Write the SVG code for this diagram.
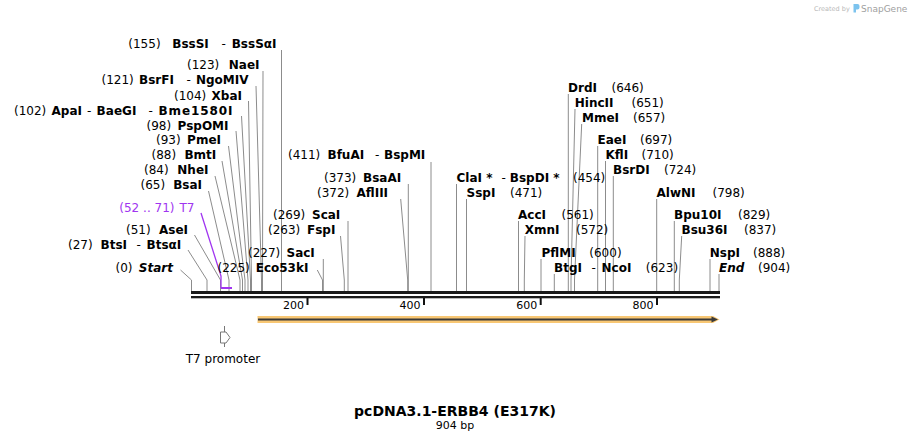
<svg xmlns="http://www.w3.org/2000/svg" width="911" height="441" viewBox="0 0 911 441">
<style>
text{font-family:"DejaVu Sans",Verdana,sans-serif;font-size:12px;fill:#000}
.b{font-weight:bold}
.i{font-style:italic}
.p{fill:#a035f0}
.tk{font-size:11px}
.ln{stroke:#8c8c8c;stroke-width:1;fill:none}
.e{text-anchor:end}
.m{text-anchor:middle}
</style>
<rect width="911" height="441" fill="#fff"/>
<g id="watermark">
<text x="814" y="11" style="font-size:6.5px;fill:#b8b8b8">Created by</text>
<path d="M853.5,4 h4 a2,2 0 0 1 2,2 v1.5 a2,2 0 0 1 -2,2 h-1.5 v3 h-2.5 z" fill="#7cc3ee"/>
<text x="861" y="11.5" style="font-size:9px;fill:#a0a0a0">SnapGene</text>
</g>
<g id="connectors">
<path class="ln" d="M281.5,50V291"/>
<path class="ln" d="M263,71L262.5,280V291"/>
<path class="ln" d="M256,86L261.5,280V291"/>
<path class="ln" d="M248.5,101L251.5,280V291"/>
<path class="ln" d="M241.5,116L250.5,280V291"/>
<path class="ln" d="M236,131L248,280V291"/>
<path class="ln" d="M228.5,146L245,280V291"/>
<path class="ln" d="M222,161L242.5,280V291"/>
<path class="ln" d="M215,176L240,280V291"/>
<path class="ln" d="M208.5,191L229,280V291"/>
<path class="ln" d="M194.5,235L220.5,280V291"/>
<path class="ln" d="M188,250L207,280V291"/>
<path class="ln" d="M180.5,270L191.5,280V291"/>
<path d="M201,213L221,276V288" stroke="#a035f0" stroke-width="1.3" fill="none"/>
<path class="ln" d="M348,221V291"/>
<path class="ln" d="M340.5,236L344.3,280V291"/>
<path class="ln" d="M323.3,259V291"/>
<path class="ln" d="M317.3,270L322.5,280V291"/>
<path class="ln" d="M431,162V291"/>
<path class="ln" d="M408.3,184V291"/>
<path class="ln" d="M400.7,199L407.7,280V291"/>
<path class="ln" d="M456.5,184V291"/>
<path class="ln" d="M466.5,199V291"/>
<path class="ln" d="M518.5,221V291"/>
<path class="ln" d="M525,236L524.3,280V291"/>
<path class="ln" d="M541,259V291"/>
<path class="ln" d="M554.3,274V291"/>
<path class="ln" d="M568.3,94V291"/>
<path class="ln" d="M575,109L571,280V291"/>
<path class="ln" d="M581.7,124L574.5,280V291"/>
<path class="ln" d="M597.7,146V291"/>
<path class="ln" d="M605.5,161V291"/>
<path class="ln" d="M613.3,176V291"/>
<path class="ln" d="M656.7,199V291"/>
<path class="ln" d="M674.3,221V291"/>
<path class="ln" d="M681.7,236L679.3,280V291"/>
<path class="ln" d="M710,259V291"/>
<path class="ln" d="M719,274V291"/>
</g>
<g id="sequence">
<rect x="191" y="291" width="529" height="3" fill="#1a1a1a"/>
<rect x="191" y="296" width="529" height="2.3" fill="#1a1a1a"/>
<g stroke="#111" stroke-width="2">
<path d="M307.5,298V305M424,298V305M540.7,298V305M657,298V305"/>
</g>
<text class="tk e" x="304" y="308.5">200</text>
<text class="tk e" x="420.5" y="308.5">400</text>
<text class="tk e" x="537.2" y="308.5">600</text>
<text class="tk e" x="653.5" y="308.5">800</text>
</g>
<g id="feature-erbb4">
<path d="M257.5,316H713L719.5,319.5L713,323H257.5Z" fill="#f8c774"/>
<path d="M258,319.5H713" stroke="#3a3a3a" stroke-width="2"/>
<path d="M711.5,316.5L718,319.5L711.5,322.5Z" fill="#3a3a3a"/>
</g>
<g id="feature-t7">
<rect x="221" y="287" width="11" height="2" fill="#a035f0"/>
<text class="p" x="119.3" y="212">(52 .. 71)</text>
<text class="p e" x="194.5" y="212">T7</text>
</g>
<g id="t7-promoter">
<path d="M224.5,326V332M224.5,343V347" stroke="#777" stroke-width="1"/>
<path d="M220.5,332H226L230,337.5L226,343H220.5Z" fill="#fff" stroke="#777" stroke-width="1"/>
<text class="m" x="223" y="363">T7 promoter</text>
</g>
<g id="BssSI"><text x="128.3" y="48">(155)</text><text class="b" x="172.3" y="48">BssSI</text><text x="221.5" y="48">-</text><text class="b e" x="276.5" y="48">BssSαI</text></g>
<g id="NaeI"><text x="187" y="69">(123)</text><text class="b e" x="259.5" y="69">NaeI</text></g>
<g id="BsrFI"><text x="101.5" y="84">(121)</text><text class="b" x="139" y="84">BsrFI</text><text x="186.5" y="84">-</text><text class="b e" x="248.5" y="84">NgoMIV</text></g>
<g id="XbaI"><text x="174" y="99.5">(104)</text><text class="b e" x="242" y="99.5">XbaI</text></g>
<g id="ApaI"><text x="14" y="114.5">(102)</text><text class="b" x="51.5" y="114.5">ApaI</text><text x="87" y="114.5">-</text><text class="b" x="96.5" y="114.5" textLength="40" lengthAdjust="spacing">BaeGI</text><text x="148.5" y="114.5">-</text><text class="b" x="158.5" y="114.5" textLength="74" lengthAdjust="spacing">Bme1580I</text></g>
<g id="PspOMI"><text x="146.5" y="129.5">(98)</text><text class="b e" x="228.5" y="129.5">PspOMI</text></g>
<g id="PmeI"><text x="156" y="144">(93)</text><text class="b e" x="221" y="144">PmeI</text></g>
<g id="BmtI"><text x="151.5" y="159">(88)</text><text class="b e" x="216.3" y="159">BmtI</text></g>
<g id="NheI"><text x="144" y="174">(84)</text><text class="b e" x="208.5" y="174">NheI</text></g>
<g id="BsaI"><text x="140.5" y="189">(65)</text><text class="b e" x="202" y="189">BsaI</text></g>
<g id="AseI"><text x="126" y="234">(51)</text><text class="b e" x="188" y="234">AseI</text></g>
<g id="BtsI"><text x="68" y="249">(27)</text><text class="b" x="100.5" y="249">BtsI</text><text x="136.5" y="249">-</text><text class="b e" x="181.3" y="249">BtsαI</text></g>
<g id="Start"><text x="115.5" y="272">(0)</text><text class="b i e" x="173" y="272">Start</text></g>
<g id="Eco53kI"><text x="217.5" y="272">(225)</text><text class="b" x="255.7" y="272">Eco53kI</text></g>
<g id="SacI"><text x="248" y="257">(227)</text><text class="b" x="286.5" y="257">SacI</text></g>
<g id="FspI"><text x="268" y="234">(263)</text><text class="b" x="307" y="234">FspI</text></g>
<g id="ScaI"><text x="273" y="218.5">(269)</text><text class="b" x="312" y="218.5">ScaI</text></g>
<g id="BfuAI"><text x="288" y="158.5">(411)</text><text class="b" x="327.5" y="158.5">BfuAI</text><text x="375" y="158.5">-</text><text class="b" x="384" y="158.5">BspMI</text></g>
<g id="BsaAI"><text x="324" y="181.5">(373)</text><text class="b" x="363" y="181.5">BsaAI</text></g>
<g id="AflIII"><text x="317" y="196.5">(372)</text><text class="b" x="356.5" y="196.5">AflIII</text></g>
<g id="ClaI"><text class="b" x="456.5" y="181.5">ClaI *</text><text x="501.5" y="181.5">-</text><text class="b" x="509.8" y="181.5">BspDI *</text><text x="573" y="181.5">(454)</text></g>
<g id="SspI"><text class="b" x="466.5" y="196.5">SspI</text><text x="510" y="196.5">(471)</text></g>
<g id="AccI"><text class="b" x="518" y="218.5">AccI</text><text x="561.5" y="218.5">(561)</text></g>
<g id="XmnI"><text class="b" x="524.8" y="234">XmnI</text><text x="576" y="234">(572)</text></g>
<g id="PflMI"><text class="b" x="541.5" y="257">PflMI</text><text x="589.3" y="257">(600)</text></g>
<g id="BtgI"><text class="b" x="554" y="272">BtgI</text><text x="591.5" y="272">-</text><text class="b" x="601.5" y="272">NcoI</text><text x="645.8" y="272">(623)</text></g>
<g id="DrdI"><text class="b" x="568" y="92">DrdI</text><text x="611.5" y="92">(646)</text></g>
<g id="HincII"><text class="b" x="574.8" y="107">HincII</text><text x="631.5" y="107">(651)</text></g>
<g id="MmeI"><text class="b" x="582" y="122">MmeI</text><text x="633" y="122">(657)</text></g>
<g id="EaeI"><text class="b" x="597.5" y="144">EaeI</text><text x="640" y="144">(697)</text></g>
<g id="KflI"><text class="b" x="605.5" y="158.5">KflI</text><text x="641.5" y="158.5">(710)</text></g>
<g id="BsrDI"><text class="b" x="613" y="173.5">BsrDI</text><text x="664" y="173.5">(724)</text></g>
<g id="AlwNI"><text class="b" x="656.5" y="196.5">AlwNI</text><text x="712.5" y="196.5">(798)</text></g>
<g id="Bpu10I"><text class="b" x="674" y="218.5">Bpu10I</text><text x="738" y="218.5">(829)</text></g>
<g id="Bsu36I"><text class="b" x="681.5" y="234">Bsu36I</text><text x="744" y="234">(837)</text></g>
<g id="NspI"><text class="b" x="709.8" y="257">NspI</text><text x="753" y="257">(888)</text></g>
<g id="End"><text class="b i" x="719" y="272">End</text><text x="758" y="272">(904)</text></g>
<g id="title">
<text class="b m" x="455" y="416" style="font-size:14px">pcDNA3.1-ERBB4 (E317K)</text>
<text class="m" x="455" y="428.5" style="font-size:11px">904 bp</text>
</g>
</svg>
